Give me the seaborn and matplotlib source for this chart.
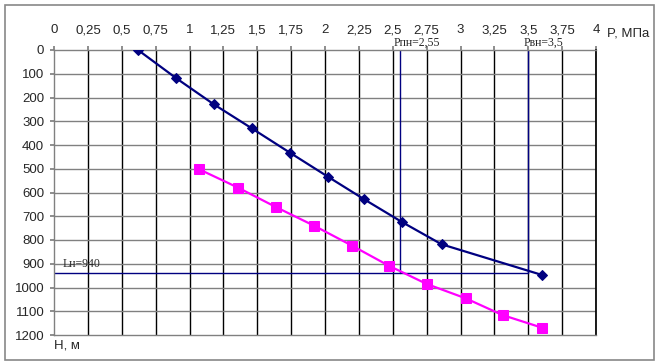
import matplotlib
matplotlib.use("Agg")
import matplotlib.pyplot as plt
import seaborn as sns
import pandas as pd
from matplotlib.patches import Rectangle

# кривые давления по глубине
p_up = [0.62, 0.90, 1.18, 1.46, 1.74, 2.02, 2.29, 2.57, 2.86, 3.60]
h_up = [0, 118, 229, 330, 432, 533, 629, 725, 818, 947]
p_low = [1.07, 1.36, 1.64, 1.92, 2.20, 2.47, 2.75, 3.04, 3.31, 3.60]
h_low = [502, 580, 662, 740, 824, 908, 985, 1046, 1116, 1169]

x_ticks = [0, 0.25, 0.5, 0.75, 1, 1.25, 1.5, 1.75, 2, 2.25, 2.5, 2.75, 3, 3.25, 3.5, 3.75, 4]
x_labels = ["0", "0,25", "0,5", "0,75", "1", "1,25", "1,5", "1,75", "2", "2,25",
            "2,5", "2,75", "3", "3,25", "3,5", "3,75", "4"]
y_ticks = [0, 100, 200, 300, 400, 500, 600, 700, 800, 900, 1000, 1100, 1200]

P_PN = 2.55
P_VN = 3.5
L_N = 940

sns.set_theme(style="white")
plt.rcParams['font.family'] = ['Liberation Sans', 'DejaVu Sans']

fig = plt.figure(figsize=(6.56, 3.61), dpi=100)
ax = fig.add_axes([54 / 656, 1 - 335 / 361, (596 - 54) / 656, (335 - 50) / 361])

# рамка вокруг всей диаграммы
fig.patches.append(Rectangle((5 / 656, 1 - 360 / 361), 649 / 656, 355 / 361,
                             transform=fig.transFigure, fill=False,
                             edgecolor='#888888', linewidth=1.2))

for x in x_ticks[1:]:
    ax.axvline(x, color='black', linewidth=1, zorder=1)
for y in y_ticks[1:-1]:
    ax.axhline(y, color='#808080', linewidth=1, zorder=1)

ax.plot([P_PN, P_PN], [0, L_N], color='#000080', linewidth=1, zorder=2)
ax.plot([P_VN, P_VN], [0, L_N], color='#000080', linewidth=1, zorder=2)
ax.plot([0, P_VN], [L_N, L_N], color='#000080', linewidth=1, zorder=2)

d1 = pd.DataFrame({'P': p_up, 'H': h_up})
d2 = pd.DataFrame({'P': p_low, 'H': h_low})
sns.lineplot(data=d1, x='P', y='H', sort=False, ax=ax, color='#000080',
             marker='D', markersize=5.5, markeredgecolor='#000080', linewidth=1.6, zorder=3)
sns.lineplot(data=d2, x='P', y='H', sort=False, ax=ax, color='#FF00FF',
             marker='s', markersize=6.5, markeredgecolor='#FF00FF', linewidth=1.6, zorder=3)

ax.set_xlim(0, 4)
ax.set_ylim(1200, 0)
ax.xaxis.tick_top()
ax.set_xticks(x_ticks)
ax.set_xticklabels(x_labels)
ax.set_yticks(y_ticks)
ax.tick_params(axis='x', which='major', direction='out', length=3, pad=7,
               labelsize=9.5, color='#808080', top=True, bottom=False)
ax.tick_params(axis='y', which='major', direction='out', length=3, pad=4,
               labelsize=9.5, color='#808080', left=True)
ax.set_xlabel('')
ax.set_ylabel('')
for s in ['left', 'top', 'bottom']:
    ax.spines[s].set_color('#808080')
    ax.spines[s].set_linewidth(1)
ax.spines['right'].set_color('black')

fig.text(607 / 656, 1 - 33 / 361, 'P, МПа', fontsize=9.5, ha='left', va='center')
fig.text(54 / 656, 1 - 346 / 361, 'H, м', fontsize=9.5, ha='left', va='center')

serif = ['Liberation Serif', 'DejaVu Serif']
ax.text(2.68, -4, 'Pпн=2,55', family=serif, fontsize=8.5, ha='center', va='bottom')
ax.text(3.61, -4, 'Pвн=3,5', family=serif, fontsize=8.5, ha='center', va='bottom')
ax.text(0.06, L_N - 14, 'Lн=940', family=serif, fontsize=8.5, ha='left', va='bottom')

fig.savefig('out.png', dpi=100)
